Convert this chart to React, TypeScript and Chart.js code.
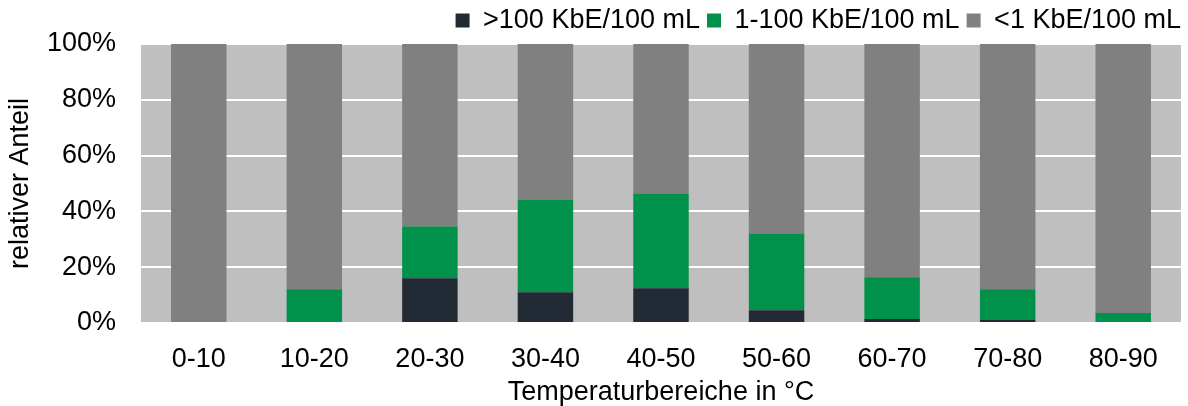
import React, { useEffect, useRef } from "react";
import { Chart, registerables } from "chart.js";
Chart.register(...registerables);

const categories = ["0-10", "10-20", "20-30", "30-40", "40-50", "50-60", "60-70", "70-80", "80-90"];
const high = [0, 0, 16, 11, 12.5, 4.6, 1.4, 1.1, 0];
const mid = [0, 12.1, 18.6, 33.3, 33.9, 27.5, 15.0, 11.0, 3.6];
const low = categories.map((_, i) => 100 - high[i] - mid[i]);
const seriesNames = [">100 KbE/100 mL", "1-100 KbE/100 mL", "<1 KbE/100 mL"];
const yTicks = [0, 20, 40, 60, 80, 100];

const bgPlugin = {
  id: "plotBg",
  beforeDraw(chart: any) {
    const { ctx, chartArea } = chart;
    ctx.save();
    ctx.fillStyle = "#BFBFBF";
    ctx.fillRect(chartArea.left, chartArea.top, chartArea.right - chartArea.left, chartArea.bottom - chartArea.top);
    ctx.restore();
  },
};

export default function App() {
  const ref = useRef<HTMLCanvasElement>(null);
  useEffect(() => {
    document.body.style.margin = "0";
    const font = { family: "'Liberation Sans', Arial, sans-serif", size: 27 };
    const chart = new Chart(ref.current!, {
      type: "bar",
      data: {
        labels: categories,
        datasets: [
          { label: seriesNames[0], data: high, backgroundColor: "#222A35" },
          { label: seriesNames[1], data: mid, backgroundColor: "#00914B" },
          { label: seriesNames[2], data: low, backgroundColor: "#808080" },
        ],
      },
      options: {
        animation: false,
        responsive: false,
        maintainAspectRatio: false,
        layout: { padding: { left: 0, right: 0, top: 0, bottom: 0 } },
        datasets: { bar: { categoryPercentage: 1, barPercentage: 0.48 } } as any,
        plugins: {
          legend: {
            position: "top",
            align: "end",
            labels: {
              font,
              color: "#000",
              boxWidth: 14,
              boxHeight: 14,
              padding: 7,
            },
          },
          tooltip: { enabled: false },
        },
        scales: {
          x: {
            stacked: true,
            grid: { display: false, drawTicks: false },
            border: { display: false },
            ticks: { font, color: "#000", padding: 20 },
            title: { display: true, text: "Temperaturbereiche in °C", font, color: "#000", padding: { top: 0, bottom: -3 } },
            afterFit(scale: any) { scale.height = 83; },
          },
          y: {
            stacked: true,
            min: 0,
            max: 100,
            afterBuildTicks(scale: any) { scale.ticks = yTicks.map((v) => ({ value: v })); },
            grid: { color: "#FFFFFF", lineWidth: 2, drawTicks: false },
            border: { display: false },
            ticks: { font, color: "#000", padding: 25, callback: (v: any) => v + "%" },
            title: { display: true, text: "relativer Anteil", font, color: "#000", padding: { top: 4, bottom: 0 } },
            afterFit(scale: any) { scale.width = 141; },
          },
          yRight: {
            position: "right",
            min: 0,
            max: 100,
            grid: { display: false, drawTicks: false },
            border: { display: false },
            ticks: { display: false },
            afterFit(scale: any) { scale.width = 7; },
          },
        },
      },
      plugins: [bgPlugin],
    });
    return () => chart.destroy();
  }, []);
  return (
    <div style={{ position: "fixed", left: 0, top: 0, width: 1188, height: 406 }}>
      <canvas ref={ref} width={1188} height={406} />
    </div>
  );
}
